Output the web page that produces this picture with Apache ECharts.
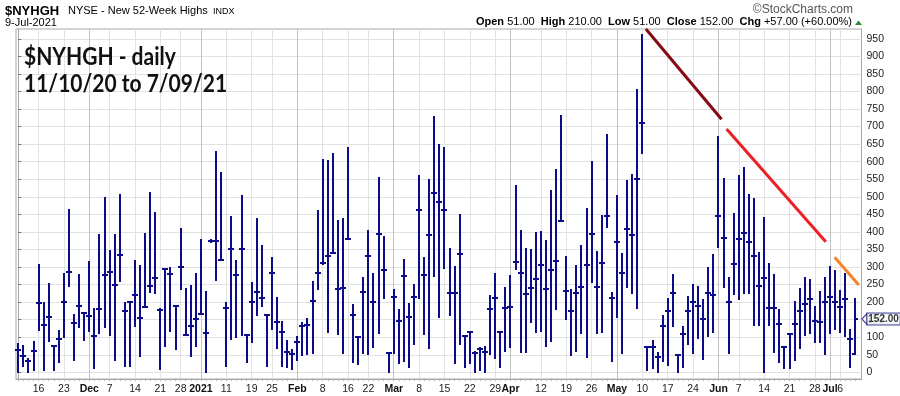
<!DOCTYPE html>
<html><head><meta charset="utf-8">
<script src="https://cdn.jsdelivr.net/npm/echarts@6/dist/echarts.min.js"></script>
<style>html,body{margin:0;padding:0;background:#fff}#c{width:900px;height:396px}</style>
</head><body><div id="c"></div>
<script>
// ---- categories: trading days ----
const dates = [
"2020-11-10","2020-11-11","2020-11-12","2020-11-13","2020-11-16","2020-11-17","2020-11-18","2020-11-19","2020-11-20","2020-11-23","2020-11-24","2020-11-25","2020-11-27","2020-11-30",
"2020-12-01","2020-12-02","2020-12-03","2020-12-04","2020-12-07","2020-12-08","2020-12-09","2020-12-10","2020-12-11","2020-12-14","2020-12-15","2020-12-16","2020-12-17","2020-12-18","2020-12-21","2020-12-22","2020-12-23","2020-12-24","2020-12-28","2020-12-29","2020-12-30","2020-12-31",
"2021-01-04","2021-01-05","2021-01-06","2021-01-07","2021-01-08","2021-01-11","2021-01-12","2021-01-13","2021-01-14","2021-01-15","2021-01-19","2021-01-20","2021-01-21","2021-01-22","2021-01-25","2021-01-26","2021-01-27","2021-01-28","2021-01-29",
"2021-02-01","2021-02-02","2021-02-03","2021-02-04","2021-02-05","2021-02-08","2021-02-09","2021-02-10","2021-02-11","2021-02-12","2021-02-16","2021-02-17","2021-02-18","2021-02-19","2021-02-22","2021-02-23","2021-02-24","2021-02-25","2021-02-26",
"2021-03-01","2021-03-02","2021-03-03","2021-03-04","2021-03-05","2021-03-08","2021-03-09","2021-03-10","2021-03-11","2021-03-12","2021-03-15","2021-03-16","2021-03-17","2021-03-18","2021-03-19","2021-03-22","2021-03-23","2021-03-24","2021-03-25","2021-03-26","2021-03-29","2021-03-30","2021-03-31",
"2021-04-01","2021-04-05","2021-04-06","2021-04-07","2021-04-08","2021-04-09","2021-04-12","2021-04-13","2021-04-14","2021-04-15","2021-04-16","2021-04-19","2021-04-20","2021-04-21","2021-04-22","2021-04-23","2021-04-26","2021-04-27","2021-04-28","2021-04-29","2021-04-30",
"2021-05-03","2021-05-04","2021-05-05","2021-05-06","2021-05-07","2021-05-10","2021-05-11","2021-05-12","2021-05-13","2021-05-14","2021-05-17","2021-05-18","2021-05-19","2021-05-20","2021-05-21","2021-05-24","2021-05-25","2021-05-26","2021-05-27","2021-05-28",
"2021-06-01","2021-06-02","2021-06-03","2021-06-04","2021-06-07","2021-06-08","2021-06-09","2021-06-10","2021-06-11","2021-06-14","2021-06-15","2021-06-16","2021-06-17","2021-06-18","2021-06-21","2021-06-22","2021-06-23","2021-06-24","2021-06-25","2021-06-28","2021-06-29","2021-06-30",
"2021-07-01","2021-07-02","2021-07-06","2021-07-07","2021-07-08","2021-07-09"
];

// ---- series values (OHLC) ----
const openV = [
65,46,33,60,197,134,159,74,94,200,285,140,188,169,160,103,180,276,285,249,
333,176,200,219,154,185,245,268,177,293,279,188,299,105,131,151,166,112,373,373,
320,182,352,276,350,105,201,230,211,162,284,144,116,59,52,87,132,136,204,284,
312,330,341,238,241,381,162,100,230,330,201,393,291,54,216,147,273,159,214,461,
276,390,510,484,461,225,225,336,104,116,56,67,59,181,213,116,184,187,315,284,
222,241,265,305,237,292,317,431,233,176,227,244,306,393,244,311,444,211,372,284,
408,390,551,711,73,73,43,133,176,227,49,108,176,199,190,151,227,221,446,384,
201,308,380,396,372,330,247,270,182,182,138,73,108,138,175,195,210,147,144,201,
216,201,185,210,95,51];
const highV = [
81,76,38,87,307,198,253,74,119,281,461,164,276,169,315,179,390,497,347,390,
504,198,200,318,304,395,512,455,179,295,298,188,409,236,245,281,378,230,376,628,
567,197,442,317,501,105,254,437,360,162,325,213,143,89,64,102,140,151,256,460,
605,602,622,431,437,640,192,100,268,403,280,553,385,54,235,178,320,195,249,560,
325,548,727,648,640,352,301,448,104,116,59,68,71,218,280,116,241,275,531,403,
351,349,398,400,375,517,577,731,328,235,303,360,466,598,344,445,676,225,503,337,
545,562,805,961,73,90,54,160,208,276,49,128,216,249,242,206,298,334,669,550,
268,451,560,583,505,493,339,439,308,277,178,73,108,200,238,268,263,187,228,270,
301,290,232,279,121,210];
const lowV = [
2,19,2,6,122,6,88,8,29,100,245,34,128,93,119,13,112,128,107,36,
261,17,19,133,46,185,230,225,9,76,119,67,238,105,46,76,166,2,370,262,
320,19,95,102,105,29,87,162,189,19,124,70,19,16,10,35,48,51,54,237,
308,116,341,109,54,379,30,23,56,51,73,113,211,2,56,28,32,16,81,213,
109,70,275,159,298,163,26,80,16,28,2,7,2,51,40,16,62,73,293,59,
59,144,116,119,76,90,180,431,153,48,62,113,43,258,113,116,415,32,157,54,
244,225,182,624,7,11,2,33,21,133,2,16,81,56,99,38,104,116,358,244,
54,223,209,226,226,135,135,2,135,59,30,11,11,35,70,105,111,87,87,51,
111,124,116,104,14,51];
const closeV = [
65,46,33,60,197,134,159,74,94,200,285,140,188,169,160,103,180,276,285,249,
333,176,200,219,154,185,245,268,177,293,279,188,299,105,131,151,166,112,373,373,
320,182,352,276,350,105,201,230,211,162,284,144,116,59,52,87,132,136,204,284,
312,330,341,238,241,381,162,100,230,330,201,393,291,54,216,147,273,159,214,461,
276,390,510,484,461,225,225,336,104,116,56,67,59,181,213,116,184,187,315,284,
222,241,265,305,237,292,317,431,233,176,227,244,306,393,244,311,444,211,372,284,
408,390,551,711,73,73,43,133,176,227,49,108,176,199,190,151,227,221,446,384,
201,308,380,396,372,330,247,270,182,182,138,73,108,138,175,195,210,147,144,201,
216,201,185,210,95,152];

// ---- tick labels ----
const weekTicks = [
["2020-11-16","16"],["2020-11-23","23"],["2020-12-07","7"],["2020-12-14","14"],["2020-12-21","21"],["2020-12-28","28"],
["2021-01-11","11"],["2021-01-19","19"],["2021-01-25","25"],["2021-02-08","8"],["2021-02-16","16"],["2021-02-22","22"],
["2021-03-08","8"],["2021-03-15","15"],["2021-03-22","22"],["2021-03-29","29"],["2021-04-12","12"],["2021-04-19","19"],["2021-04-26","26"],
["2021-05-10","10"],["2021-05-17","17"],["2021-05-24","24"],["2021-06-07","7"],["2021-06-14","14"],["2021-06-21","21"],["2021-06-28","28"],["2021-07-06","6"]
];
const monthTicks = [
["2020-12-01","Dec"],["2021-01-04","2021"],["2021-02-01","Feb"],["2021-03-01","Mar"],["2021-04-01","Apr"],["2021-05-03","May"],["2021-06-01","Jun"],["2021-07-01","Jul"]
];
const yTicks = [0,50,100,150,200,250,300,350,400,450,500,550,600,650,700,750,800,850,900,950];

// ---- hand-drawn trend lines (category index, value) ----
const trendDarkRed = [[123.7, 978], [138.6, 721]];
const trendRed = [[139.6, 693], [159.15, 372]];
const trendOrange = [[160.9, 328], [165.65, 249]];

// ---- build ----
const FONT = '"Liberation Sans", Arial, sans-serif';
const BAR = '#0c0c8a';
const last = dates.length - 1;
const labelMap = {};
weekTicks.forEach(t => { labelMap[dates.indexOf(t[0])] = t[1]; });
monthTicks.forEach(t => { labelMap[dates.indexOf(t[0])] = '{m|' + t[1] + '}'; });
const labelIdx = Object.keys(labelMap).map(Number).sort((a, b) => a - b);
const labelIdxA = labelIdx.filter((v, k) => k % 2 === 0);
const labelIdxB = labelIdx.filter((v, k) => k % 2 === 1);
const monthIdx = monthTicks.map(t => dates.indexOf(t[0]));
const allIdx = dates.map((d, i) => i);
const ohlc = dates.map((d, i) => [i, openV[i], closeV[i], lowV[i], highV[i]]);

const XMIN = -0.45, XMAX = 166.19;
const xBase = { type: 'value', min: XMIN, max: XMAX, position: 'bottom', gridIndex: 0 };
const labelBase = {
  margin: 5, color: '#222', fontSize: 10.5, fontFamily: FONT, hideOverlap: false,
  showMinLabel: true, showMaxLabel: true,
  formatter: v => labelMap[Math.round(v)] || '',
  rich: { m: { fontWeight: 'bold', fontSize: 10.5, fontFamily: FONT, color: '#111' } }
};

const chg = closeV[last] - closeV[last - 1];
const pct = chg / closeV[last - 1] * 100;
const sgn = v => (v >= 0 ? '+' : '') + v.toFixed(2);

const chart = echarts.init(document.getElementById('c'), null, { renderer: 'canvas' });
chart.setOption({
  animation: false,
  backgroundColor: '#fff',
  grid: { left: 16, right: 38.5, top: 29, bottom: 17, show: true, borderColor: '#a8a8a8', borderWidth: 1, backgroundColor: '#fff' },
  xAxis: [
    Object.assign({}, xBase, {
      axisLine: { show: true, onZero: false, lineStyle: { color: '#a8a8a8' } },
      axisTick: { show: false, customValues: labelIdx },
      splitLine: { show: true, lineStyle: { color: '#e2e2e2', width: 1 } },
      axisLabel: Object.assign({ customValues: labelIdxA }, labelBase)
    }),
    Object.assign({}, xBase, {
      axisLine: { show: false }, axisLabel: { show: false },
      axisTick: { show: false, customValues: monthIdx },
      splitLine: { show: true, lineStyle: { color: '#c4c4c4', width: 1 } }
    }),
    Object.assign({}, xBase, {
      axisLine: { show: false }, splitLine: { show: false },
      axisTick: { show: true, customValues: allIdx, length: 2, lineStyle: { color: '#b0b0b0' } },
      axisLabel: Object.assign({ customValues: labelIdxB }, labelBase)
    })
  ],
  yAxis: {
    type: 'value', position: 'right', min: -19, max: 978,
    axisLine: { show: true, lineStyle: { color: '#a8a8a8' } },
    axisTick: { show: true, length: 3, customValues: yTicks, lineStyle: { color: '#777' } },
    axisLabel: { customValues: yTicks, margin: 5, color: '#222', fontSize: 10.5, fontFamily: FONT },
    splitLine: { show: true, lineStyle: { color: '#e2e2e2' } }
  },
  series: [
    {
      type: 'custom', xAxisIndex: 0, yAxisIndex: 0, data: ohlc, z: 3,
      renderItem: (params, api) => {
        const i = api.value(0);
        const x = Math.round(api.coord([i, 0])[0]);
        const yO = Math.round(api.coord([i, api.value(1)])[1]);
        const yC = Math.round(api.coord([i, api.value(2)])[1]);
        const yL = Math.round(api.coord([i, api.value(3)])[1]);
        const yH = Math.round(api.coord([i, api.value(4)])[1]);
        const st = { stroke: BAR, lineWidth: 2 };
        return { type: 'group', children: [
          { type: 'line', shape: { x1: x, y1: yH - 1, x2: x, y2: yL + 1 }, style: st },
          { type: 'line', shape: { x1: x - 3, y1: yO, x2: x, y2: yO }, style: st },
          { type: 'line', shape: { x1: x, y1: yC, x2: x + 3, y2: yC }, style: st }
        ] };
      }
    },
    { type: 'line', data: trendDarkRed, showSymbol: false, clip: false, z: 4, lineStyle: { color: '#840a14', width: 3 } },
    { type: 'line', data: trendRed, showSymbol: false, clip: false, z: 4, lineStyle: { color: '#ec2024', width: 3 } },
    { type: 'line', data: trendOrange, showSymbol: false, clip: false, z: 4, lineStyle: { color: '#f4822a', width: 3 } },
    {
      type: 'scatter', data: [[last, closeV[last]]], clip: false, silent: true, z: 6,
      symbol: 'path://M0,6L6,0L6,12Z', symbolSize: [5, 11], symbolOffset: [9, 0],
      itemStyle: { color: '#fff', borderColor: '#1a1a80', borderWidth: 1 },
      label: {
        show: true, position: 'right', distance: 0,
        formatter: p => p.value[1].toFixed(2),
        fontFamily: FONT, fontWeight: 'bold', fontSize: 10, color: '#000',
        backgroundColor: '#fff', borderColor: '#1a1a80', borderWidth: 1, padding: [1, 1, 0, 1]
      }
    }
  ],
  graphic: [
    { type: 'text', x: 5, y: 11, style: { text: '$NYHGH', font: 'bold 13px ' + FONT, fill: '#000', textVerticalAlign: 'middle', verticalAlign: 'middle' } },
    { type: 'text', x: 68, y: 11, style: { text: 'NYSE - New 52-Week Highs', font: '11px ' + FONT, fill: '#000', textVerticalAlign: 'middle', verticalAlign: 'middle' } },
    { type: 'text', x: 213, y: 11.5, style: { text: 'INDX', font: '9px ' + FONT, fill: '#000', textVerticalAlign: 'middle', verticalAlign: 'middle' } },
    { type: 'text', x: 5, y: 23, style: { text: '9-Jul-2021', font: '11px ' + FONT, fill: '#000', textVerticalAlign: 'middle', verticalAlign: 'middle' } },
    { type: 'text', x: 853, y: 9.5, style: { text: '©StockCharts.com', font: '12px ' + FONT, fill: '#555', textAlign: 'right', align: 'right', textVerticalAlign: 'middle', verticalAlign: 'middle' } },
    { type: 'text', x: 852, y: 22, style: {
        text: '{b|Open} ' + openV[last].toFixed(2) + '  {b|High} ' + highV[last].toFixed(2) + '  {b|Low} ' + lowV[last].toFixed(2) +
              '  {b|Close} ' + closeV[last].toFixed(2) + '  {b|Chg} ' + sgn(chg) + ' (' + sgn(pct) + '%)',
        font: '11px ' + FONT, fill: '#000', textAlign: 'right', align: 'right', textVerticalAlign: 'middle', verticalAlign: 'middle',
        rich: { b: { font: 'bold 11px ' + FONT, fill: '#000' } } } },
    { type: 'polygon', shape: { points: [[855, 25], [858.5, 20.5], [862, 25]] }, style: { fill: '#2e8b2e' } },
    { type: 'text', x: 24, y: 57, scaleX: 0.875, z: 10, style: { text: '$NYHGH - daily', font: 'bold 24px Lato, "Open Sans", sans-serif', fill: '#111', textVerticalAlign: 'middle', verticalAlign: 'middle' } },
    { type: 'text', x: 24, y: 84, scaleX: 0.875, z: 10, style: { text: '11/10/20 to 7/09/21', font: 'bold 24px Lato, "Open Sans", sans-serif', fill: '#111', textVerticalAlign: 'middle', verticalAlign: 'middle' } }
  ]
});
</script>
</body></html>
